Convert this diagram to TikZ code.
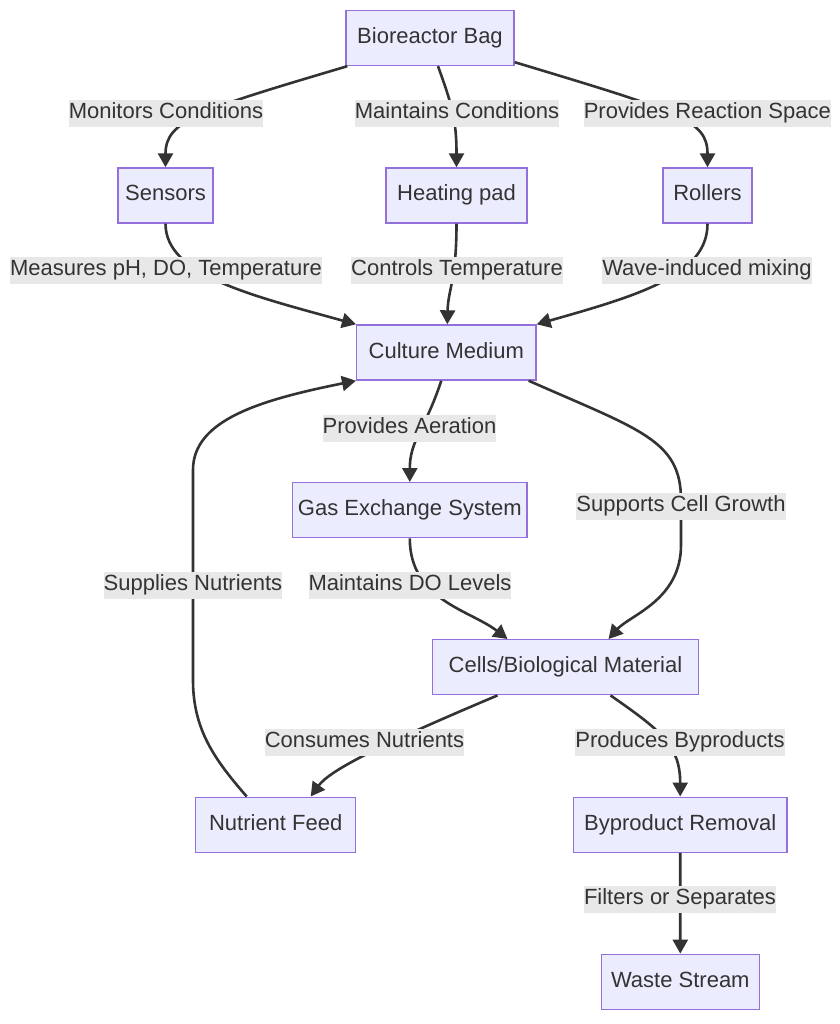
\documentclass[tikz,border=0pt]{standalone}
\usepackage{fontspec}
\setmainfont{Liberation Sans}
\usetikzlibrary{arrows.meta}
\definecolor{nodefill}{HTML}{ECECFF}
\definecolor{nodeline}{HTML}{9370DB}
\definecolor{ink}{HTML}{333333}
\definecolor{lblbg}{HTML}{E8E8E8}
\begin{document}
\begin{tikzpicture}[x=1pt,y=-1pt,
  box/.style={draw=nodeline, fill=nodefill, line width=1.4pt, text=ink,
    minimum height=55pt, inner xsep=0pt, inner ysep=0pt,
    text height=15.5pt, text depth=4.5pt,
    font=\fontsize{22}{26}\selectfont},
  lbl/.style={fill=lblbg, text=ink, inner xsep=0pt, inner ysep=3.5pt,
    text height=15.5pt, text depth=4.5pt,
    font=\fontsize{22}{26}\selectfont},
  arr/.style={draw=ink, line width=2.6pt,
    -{Triangle[length=14pt,width=15pt]}}]
\useasboundingbox (0,0) rectangle (839,1024);

% nodes
\node[box, minimum width=168pt] (bag) at (430,38) {Bioreactor Bag};
\node[box, minimum width=95pt] (sensors) at (165.5,195.5) {Sensors};
\node[box, minimum width=141pt] (heat) at (456.5,195.5) {Heating pad};
\node[box, minimum width=89pt] (rollers) at (707.5,195.5) {Rollers};
\node[box, minimum width=179.3pt] (medium) at (446.3,352.5) {Culture Medium};
\node[box, minimum width=234.3pt] (gas) at (409.8,510.2) {Gas Exchange System};
\node[box, minimum width=265.6pt] (cells) at (565.5,667.2) {Cells/Biological Material};
\node[box, minimum width=160pt] (nutrient) at (275.7,824.7) {Nutrient Feed};
\node[box, minimum width=213.7pt] (byproduct) at (680.2,824.7) {Byproduct Removal};
\node[box, minimum width=158pt] (waste) at (680.3,981.8) {Waste Stream};

% edges
\draw[arr] ([xshift=2pt]bag.south west) .. controls (200,110) and (165.5,120) .. (sensors.north);
\draw[arr] ([xshift=8pt]bag.south) .. controls (452,105) and (456.5,120) .. (heat.north);
\draw[arr] ([yshift=4pt]bag.south east) .. controls (680,112) and (707.5,120) .. (rollers.north);
\draw[arr] (sensors.south) .. controls (165.5,275) and (250,295) .. (medium.north west);
\draw[arr] (heat.south) .. controls (456.5,280) and (448,290) .. ([xshift=1pt]medium.north);
\draw[arr] (rollers.south) .. controls (707.5,275) and (640,295) .. (medium.north east);
\draw[arr] ([xshift=-5pt]medium.south) .. controls (425,430) and (409.8,440) .. (gas.north);
\draw[arr] ([xshift=-8pt]medium.south east) .. controls (640,430) and (681,440) .. (681,500)
  -- (681,545) .. controls (681,600) and (630,615) .. ([xshift=43pt]cells.north);
\draw[arr] ([xshift=-29pt]nutrient.north) .. controls (215,760) and (193,730) .. (193,680)
  -- (193,470) .. controls (193,420) and (260,400) .. (medium.south west);
\draw[arr] (gas.south) .. controls (409.8,600) and (470,610) .. ([xshift=-58pt]cells.north);
\draw[arr] ([xshift=-68pt]cells.south) .. controls (380,745) and (330,770) .. ([xshift=35pt]nutrient.north);
\draw[arr] ([xshift=45pt]cells.south) .. controls (660,730) and (680.2,745) .. (byproduct.north);
\draw[arr] (byproduct.south) -- (waste.north);

% edge labels
\node[lbl] (l1) at (166,113.5) {Monitors Conditions};
\node[lbl] (l2) at (457,113.5) {Maintains Conditions};
\node[lbl] (l3) at (707.3,113.5) {Provides Reaction Space};
\node[lbl] (l4) at (166,270) {Measures pH, DO, Temperature};
\node[lbl] (l5) at (457,270) {Controls Temperature};
\node[lbl] (l6) at (707,270) {Wave-induced mixing};
\node[lbl] (l7) at (409.5,428) {Provides Aeration};
\node[lbl] (l8) at (681,506) {Supports Cell Growth};
\node[lbl] (l9) at (193,585) {Supplies Nutrients};
\node[lbl] (l10) at (410,585) {Maintains DO Levels};
\node[lbl] (l11) at (364.5,742) {Consumes Nutrients};
\node[lbl] (l12) at (680,742) {Produces Byproducts};
\node[lbl] (l13) at (680,899) {Filters or Separates};
\end{tikzpicture}
\end{document}
